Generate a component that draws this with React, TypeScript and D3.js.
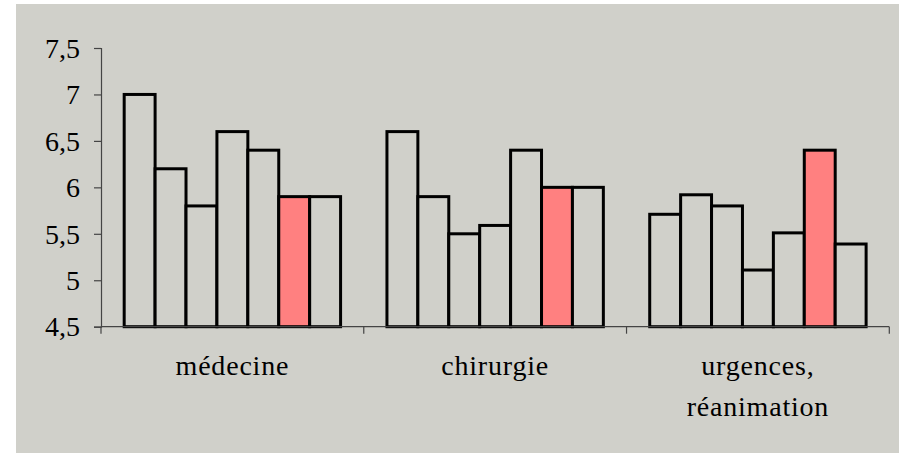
import { useRef, useEffect } from 'react';
import * as d3 from 'd3';

const categories = ['médecine', 'chirurgie', 'urgences,\nréanimation'];
const seriesIds = ['s1', 's2', 's3', 's4', 's5', 's6', 's7'];
// one row per category, one value per series
const medecine = [7.0, 6.2, 5.8, 6.6, 6.4, 5.9, 5.9];
const chirurgie = [6.6, 5.9, 5.5, 5.59, 6.4, 6.0, 6.0];
const urgences = [5.71, 5.92, 5.8, 5.11, 5.51, 6.4, 5.39];
const yTicks = [4.5, 5, 5.5, 6, 6.5, 7, 7.5];
const highlighted = 's6';

const BG = '#d0d0ca';
const RED = '#ff8080';
const FONT = "'Times New Roman', 'Liberation Serif', Tinos, serif";

export default function App() {
  const svgRef = useRef<SVGSVGElement>(null);

  useEffect(() => {
    if (!svgRef.current) return;
    const svg = d3.select(svgRef.current);
    svg.selectAll('*').remove();

    const width = 899;
    const height = 453;
    const left = 101;
    const right = 889.3;
    const top = 48;
    const bottom = 326.7;

    svg.append('rect').attr('width', width).attr('height', height).attr('fill', '#fff');
    svg.append('rect').attr('x', 16).attr('y', 4).attr('width', width - 16).attr('height', height - 4).attr('fill', BG);

    const values = [medecine, chirurgie, urgences];

    const x = d3.scaleBand().domain(categories).range([left, right]).padding(0);
    const y = d3.scaleLinear().domain([4.5, 7.5]).range([bottom, top]);
    // excel style: gap width 150% -> band = 8.5 bar widths
    const inner = d3.scaleBand().domain(seriesIds)
      .range([0, x.bandwidth()])
      .paddingInner(0)
      .paddingOuter(0.75);

    // y axis
    const gy = svg.append('g').attr('transform', `translate(${left},0)`)
      .attr('font-family', FONT)
      .call(d3.axisLeft(y).tickValues(yTicks).tickSize(7).tickPadding(14)
        .tickFormat((d) => String(d).replace('.', ',')));
    gy.attr('font-family', FONT).attr('font-size', 28);
    gy.select('.domain').attr('stroke', '#444').attr('stroke-width', 1.2);
    gy.selectAll('.tick line').attr('stroke', '#444').attr('stroke-width', 1.2);
    gy.selectAll('.tick text')
      .attr('fill', '#000')
      .attr('dy', '0.33em')
      .attr('font-family', FONT)
      .attr('font-size', 28);

    // bars
    categories.forEach((c, ci) => {
      const g = svg.append('g').attr('transform', `translate(${x(c)},0)`);
      seriesIds.forEach((s, si) => {
        const v = values[ci][si];
        g.append('rect')
          .attr('x', inner(s)!)
          .attr('y', y(v))
          .attr('width', inner.bandwidth())
          .attr('height', y(4.5) - y(v))
          .attr('fill', s === highlighted ? RED : BG)
          .attr('stroke', '#000')
          .attr('stroke-width', 3)
          .attr('stroke-linejoin', 'miter');
      });
    });

    // x axis
    const gx = svg.append('g').attr('transform', `translate(0,${bottom})`);
    gx.append('line').attr('x1', left).attr('x2', right).attr('stroke', '#444').attr('stroke-width', 1.2);
    const bounds = [left, ...categories.map((c) => x(c)! + x.bandwidth())];
    gx.selectAll('line.tk').data(bounds).join('line')
      .attr('class', 'tk')
      .attr('x1', (d) => d).attr('x2', (d) => d)
      .attr('y1', 0).attr('y2', 7)
      .attr('stroke', '#444').attr('stroke-width', 1.2);

    categories.forEach((c) => {
      const lines = c.split('\n');
      const t = gx.append('text')
        .attr('text-anchor', 'middle')
        .attr('fill', '#000')
        .attr('font-family', FONT)
        .attr('font-size', 28)
        .attr('letter-spacing', 0.8);
      lines.forEach((l, i) => {
        t.append('tspan')
          .attr('x', x(c)! + x.bandwidth() / 2)
          .attr('y', 48.5 + i * 41)
          .text(l);
      });
    });
  }, []);

  return (
    <svg
      ref={svgRef}
      width={899}
      height={453}
      style={{ position: 'absolute', left: 0, top: 0, display: 'block' }}
    />
  );
}
